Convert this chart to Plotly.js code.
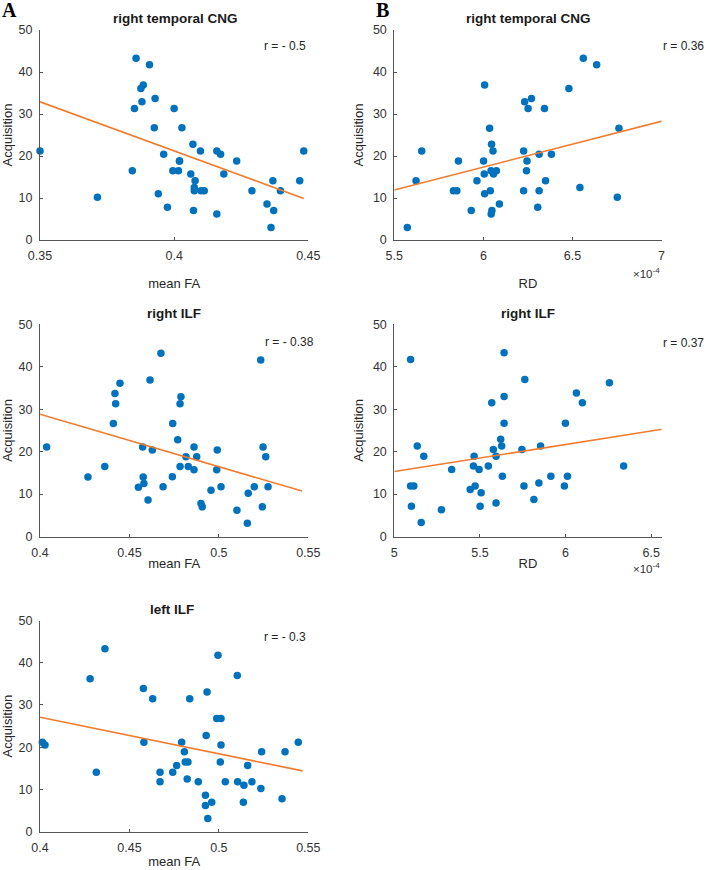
<!DOCTYPE html>
<html><head><meta charset="utf-8">
<script src="https://cdn.plot.ly/plotly-3.0.1.min.js"></script>
<style>html,body{margin:0;padding:0;background:#fff}#chart{width:708px;height:870px}</style>
</head><body><div id="chart"></div>
<script>
// ---- Panel A, row 1: right temporal CNG, mean FA vs Acquisition
const faA1 = [0.3858,0.3908,0.3885,0.3876,0.3880,0.3929,0.3852,0.4000,0.3926,0.4029,
  0.3500,0.3714,0.3844,0.3961,0.3941,0.3975,0.3995,0.4016,0.4020,0.4020,
  0.4070,0.4098,0.4062,0.4078,0.4075,0.4075,0.4100,0.4112,0.4072,0.4159,
  0.4159,0.4173,0.4185,0.4233,0.4290,0.4346,0.4368,0.4371,0.4396,0.4361,0.4468,0.4483];
const acqA1 = [43.3,41.7,36.9,36.1,32.9,33.7,31.3,31.3,26.7,26.7,
  21.2,10.2,16.5,20.4,11.0,7.8,16.5,16.5,18.8,18.8,
  22.8,21.2,15.7,14.1,12.5,11.7,11.7,11.7,7.0,6.2,
  21.2,20.4,15.7,18.8,11.7,8.6,14.1,7.0,11.7,3.0,14.1,21.2];
const fitA1x = [0.35, 0.4483];
const fitA1y = [32.9, 9.9];

// ---- Panel B, row 1: right temporal CNG, RD (x 1e-4) vs Acquisition
const rdB1 = [6.007,6.035,6.232,6.270,6.251,6.343,6.480,6.561,6.636,6.761,
  5.573,5.622,5.654,5.832,5.851,5.860,5.932,5.964,6.001,6.005,
  6.007,6.039,6.046,6.054,6.043,6.057,6.073,6.048,6.044,6.090,
  6.226,6.245,6.242,6.226,6.313,6.382,6.349,6.313,6.305,6.542,6.752,7.015];
const acqB1 = [36.9,26.6,32.9,33.7,31.3,31.3,36.1,43.3,41.7,26.6,
  3.0,14.1,21.2,11.7,11.7,18.8,7.0,14.1,18.8,15.7,
  11.0,11.7,22.8,21.2,16.5,15.7,16.5,7.0,6.2,8.6,
  21.2,18.8,16.5,11.7,20.4,20.4,14.1,11.7,7.8,12.5,10.2,21.2];
const fitB1x = [5.5, 7.048];
const fitB1y = [11.9, 28.8];

// ---- Panel A, row 2: right ILF
const faA2 = [0.4676,0.5234,0.4615,0.4447,0.4419,0.4423,0.4788,0.4783,0.4410,0.4742,
  0.4037,0.4268,0.4362,0.4550,0.4574,0.4577,0.4581,0.4628,0.4604,0.4688,
  0.4740,0.4770,0.4783,0.4829,0.4816,0.4861,0.4876,0.4861,0.4900,0.4907,
  0.4956,0.4991,0.4988,0.5012,0.5101,0.5159,0.5164,0.5198,0.5243,0.5247,0.5262,0.5275];
const acqA2 = [43.2,41.6,36.9,36.1,33.7,31.3,32.9,31.3,26.6,26.6,
  21.1,14.0,16.5,11.6,21.1,14.0,12.5,20.4,8.6,11.7,
  14.1,22.8,16.5,16.5,18.8,21.1,18.8,15.7,7.8,7.0,
  10.9,20.4,15.7,11.7,6.2,3.1,10.2,11.7,7.0,21.1,18.8,11.7];
const fitA2x = [0.4, 0.5465];
const fitA2y = [28.8, 10.7];

// ---- Panel B, row 2: right ILF
const rdB2 = [5.095,5.641,5.762,6.256,5.641,5.569,6.063,6.098,5.641,5.999,
  5.095,5.114,5.100,5.134,5.172,5.157,5.275,5.335,5.443,5.472,
  5.466,5.462,5.495,5.507,5.501,5.549,5.578,5.594,5.594,5.621,
  5.627,5.631,5.745,5.757,5.815,5.844,5.854,5.914,5.993,6.011,6.339,6.566];
const acqB2 = [41.7,43.3,37.0,36.2,33.0,31.5,33.8,31.5,26.7,26.7,
  11.9,11.9,7.1,21.3,18.9,3.3,6.3,15.8,11.1,11.9,
  18.9,16.6,15.8,10.3,7.1,16.6,20.5,18.9,7.9,22.9,
  21.3,14.2,20.5,11.9,8.7,12.6,21.3,14.2,11.9,14.2,16.6,21.3];
const fitB2x = [5.0, 6.585];
const fitB2y = [15.3, 25.4];

// ---- Panel A, row 3: left ILF
const faA3 = [0.4363,0.4280,0.4578,0.4630,0.4837,0.4934,0.4995,0.5103,0.4988,0.5012,
  0.4013,0.4028,0.4315,0.4581,0.4671,0.4671,0.4742,0.4764,0.4792,0.4807,
  0.4812,0.4827,0.4823,0.4885,0.4929,0.4925,0.4925,0.4960,0.4938,0.5012,
  0.5008,0.5036,0.5105,0.5140,0.5137,0.5161,0.5185,0.5239,0.5235,0.5353,0.5370,0.5444];
const acqA3 = [43.3,36.2,33.9,31.5,31.5,33.1,41.8,37.0,26.8,26.8,
  21.2,20.5,14.1,21.2,14.1,11.8,14.1,15.7,21.2,18.9,
  16.5,16.5,12.5,11.8,22.8,8.6,6.2,7.0,3.1,20.5,
  16.5,11.8,11.8,11.0,7.0,15.7,11.8,18.9,10.2,7.8,18.9,21.2];
const fitA3x = [0.4, 0.5468];
const fitA3y = [27.1, 14.4];

// ---- labels
const panelTitles = ['right temporal CNG','right temporal CNG','right ILF','right ILF','left ILF'];
const rLabels = ['r = - 0.5','r = 0.36','r = - 0.38','r = 0.37','r = - 0.3'];
const xTitles = ['mean FA','RD','mean FA','RD','mean FA'];
const yTitle = 'Acquisition';
const yTicks = [0,10,20,30,40,50];
const faTicksA1 = [0.35,0.4,0.45];
const faTicks = [0.4,0.45,0.5,0.55];
const rdTicksB1 = [5.5,6,6.5,7];
const rdTicksB2 = [5,5.5,6,6.5];

const W = 708, H = 870;
const BLUE = '#0072BD', ORANGE = '#F07B2C';
const FONT = 'Liberation Sans, Arial, sans-serif';

function px2x(a,b){return [a/W, b/W];}
function py2y(top,bottom){return [1-bottom/H, 1-top/H];}

const colA = px2x(40, 308.3), colB = px2x(394.3, 661.5);
const rows = [py2y(30,240), py2y(324.3,536.5), py2y(620.5,831.7)];

const panels = [
  {x:faA1, y:acqA1, fx:fitA1x, fy:fitA1y, dom:colA, row:0, range:[0.35,0.45], ticks:faTicksA1},
  {x:rdB1, y:acqB1, fx:fitB1x, fy:fitB1y, dom:colB, row:0, range:[5.5,7], ticks:rdTicksB1},
  {x:faA2, y:acqA2, fx:fitA2x, fy:fitA2y, dom:colA, row:1, range:[0.4,0.55], ticks:faTicks},
  {x:rdB2, y:acqB2, fx:fitB2x, fy:fitB2y, dom:colB, row:1, range:[5,6.56], ticks:rdTicksB2},
  {x:faA3, y:acqA3, fx:fitA3x, fy:fitA3y, dom:colA, row:2, range:[0.4,0.55], ticks:faTicks}
];
const xStand = [16, 16, 0, 0, 3];

const axBase = {
  showline:true, linecolor:'#555', linewidth:1, ticks:'inside', ticklen:3, tickcolor:'#555',
  showgrid:false, zeroline:false, mirror:false, fixedrange:true,
  tickfont:{family:FONT, size:12.5, color:'#333'}, ticklabelstandoff:4
};

const data = [];
const layout = {
  width:W, height:H, margin:{l:0,r:0,t:0,b:0}, showlegend:false,
  paper_bgcolor:'#fff', plot_bgcolor:'#fff', font:{family:FONT, color:'#262626'},
  annotations:[], shapes:[]
};

panels.forEach((p,i)=>{
  const n = i===0 ? '' : String(i+1);
  const xa = 'x'+n, ya = 'y'+n;
  data.push({type:'scatter', mode:'markers', x:p.x, y:p.y, xaxis:xa, yaxis:ya,
    marker:{color:BLUE, size:7.5}, cliponaxis:false, hoverinfo:'x+y'});
  data.push({type:'scatter', mode:'lines', x:p.fx, y:p.fy, xaxis:xa, yaxis:ya,
    line:{color:ORANGE, width:1.6}, hoverinfo:'skip'});
  layout['xaxis'+n] = Object.assign({}, axBase, {
    domain:p.dom, anchor:ya, range:p.range, tickvals:p.ticks,
    title:{text:xTitles[i], font:{family:FONT, size:13, color:'#262626'}, standoff:xStand[i]}
  });
  layout['yaxis'+n] = Object.assign({}, axBase, {
    domain:rows[p.row], anchor:xa, range:[0,50], tickvals:yTicks,
    title:{text:yTitle, font:{family:FONT, size:13, color:'#262626'}, standoff:6}
  });
});

// subplot titles
const titleY = [18, 18, 313, 313, 609];
const titleX = [175, 528, 174, 528, 172];
panelTitles.forEach((t,i)=>{
  layout.annotations.push({text:'<b>'+t+'</b>', xref:'paper', yref:'paper',
    x:titleX[i]/W, y:1-titleY[i]/H, xanchor:'center', yanchor:'middle', showarrow:false,
    font:{family:FONT, size:13.5, color:'#1a1a1a'}});
});
// r labels (A column anchored left, B column anchored right at the page edge)
const rX = [262, 706, 263, 706, 262];
const rAnchor = ['left','right','left','right','left'];
const rY = [46, 46, 342, 343, 637];
rLabels.forEach((t,i)=>{
  layout.annotations.push({text:t, xref:'paper', yref:'paper',
    x:rX[i]/W, y:1-rY[i]/H, xanchor:rAnchor[i], yanchor:'middle', showarrow:false,
    font:{family:FONT, size:12, color:'#262626'}});
});
// exponent labels
[[662,273],[662,568]].forEach(([x,y])=>{
  layout.annotations.push({text:'×10<sup>-4</sup>', xref:'paper', yref:'paper',
    x:x/W, y:1-y/H, xanchor:'right', yanchor:'middle', showarrow:false,
    font:{family:FONT, size:11.5, color:'#333'}});
});
// panel letters
[['A',9],['B',382]].forEach(([t,x])=>{
  layout.annotations.push({text:'<b>'+t+'</b>', xref:'paper', yref:'paper',
    x:x/W, y:1-10/H, xanchor:'center', yanchor:'middle', showarrow:false,
    font:{family:'Liberation Serif, Times New Roman, serif', size:20, color:'#000'}});
});

Plotly.newPlot('chart', data, layout, {displayModeBar:false, staticPlot:true});
</script>
</body></html>
